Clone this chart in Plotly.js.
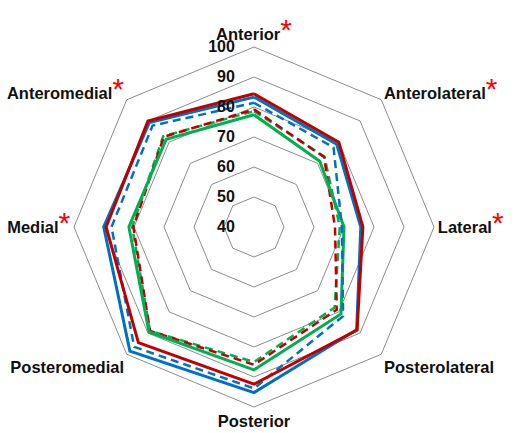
<!DOCTYPE html>
<html>
<head>
<meta charset="utf-8">
<script src="https://cdn.plot.ly/plotly-3.0.1.min.js"></script>
<style>html,body{margin:0;padding:0;background:#fff;}#chart{width:515px;height:433px;}</style>
</head>
<body>
<div id="chart"></div>
<script>
const categories = ["Anterior", "Anterolateral", "Lateral", "Posterolateral", "Posterior", "Posteromedial", "Medial", "Anteromedial"];
const significant = [true, true, true, false, false, false, true, true];

const redSolid   = [84.4, 80.0, 76.3, 88.6, 92.4, 94.5, 89.3, 90.0];
const blueSolid  = [83.3, 79.0, 75.6, 88.4, 95.2, 98.5, 90.1, 89.3];
const blueDashed = [81.4, 77.5, 69.3, 82.0, 93.8, 96.5, 87.5, 87.8];
const redDashed  = [79.2, 73.0, 67.0, 79.0, 85.9, 89.0, 80.2, 82.5];
const greenDashed= [78.6, 73.2, 68.6, 78.0, 85.0, 89.0, 80.6, 82.8];
const greenSolid = [77.4, 71.0, 70.0, 81.0, 87.6, 89.5, 81.7, 81.4];

const radialTicks = [40, 50, 60, 70, 80, 90, 100];

const RED = "#C00000", BLUE = "#0070C0", GREEN = "#00B050";

function closed(arr) { return arr.concat([arr[0]]); }
const thetaClosed = closed(categories);

function series(vals, color, dashed, width) {
  return {
    type: "scatterpolar",
    mode: "lines",
    r: closed(vals),
    theta: thetaClosed,
    line: { color: color, width: width, dash: dashed ? "8px,5px" : "solid" },
    hoverinfo: "skip",
    showlegend: false
  };
}

const data = [
  series(greenDashed, GREEN, true, 2.5),
  series(redDashed, RED, true, 2.5),
  series(greenSolid, GREEN, false, 3),
  series(blueDashed, BLUE, true, 2.5),
  series(blueSolid, BLUE, false, 3),
  series(redSolid, RED, false, 3)
];

const tickText = categories.map((c, i) =>
  significant[i] ? c + "<span style='color:#FF0000;font-size:30px;font-weight:normal'>*</span>" : c);

const layout = {
  width: 515,
  height: 433,
  margin: { l: 0, r: 0, t: 0, b: 0 },
  paper_bgcolor: "#ffffff",
  showlegend: false,
  polar: {
    domain: { x: [74 / 515, 434 / 515], y: [(433 - 407) / 433, (433 - 47) / 433] },
    bgcolor: "#ffffff",
    gridshape: "linear",
    radialaxis: {
      range: [40, 100],
      tickmode: "array",
      tickvals: radialTicks,
      ticktext: radialTicks.map(String),
      angle: 90,
      tickangle: 90,
      side: "counterclockwise",
      showline: false,
      ticks: "outside",
      ticklen: 13,
      tickcolor: "rgba(0,0,0,0)",
      gridcolor: "#8c8c8c",
      gridwidth: 1,
      tickfont: { family: "Liberation Sans, Arial, sans-serif", size: 16, color: "#111111", weight: "bold" }
    },
    angularaxis: {
      direction: "clockwise",
      rotation: 90,
      showgrid: false,
      showline: true,
      linecolor: "#8c8c8c",
      linewidth: 1,
      ticks: "",
      tickmode: "array",
      tickvals: categories,
      ticktext: tickText,
      tickfont: { family: "Liberation Sans, Arial, sans-serif", size: 16.5, color: "#111111", weight: "bold" }
    }
  }
};

Plotly.newPlot("chart", data, layout, { displayModeBar: false, staticPlot: true });
</script>
</body>
</html>
